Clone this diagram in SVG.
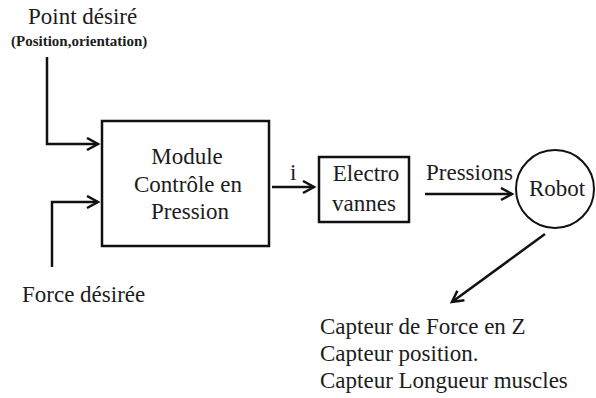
<svg xmlns="http://www.w3.org/2000/svg" width="596" height="398" viewBox="0 0 596 398">
<style>
text{font-family:'Liberation Serif','DejaVu Serif',serif;font-size:23px;fill:#1c1c1c}
.small{font-size:15px;font-weight:bold}
.mid{text-anchor:middle}
.box{fill:#fff;stroke:#111;stroke-width:2.5}
.edge{fill:none;stroke:#111;stroke-width:2.5}
</style>
<defs>
<marker id="arr" markerUnits="userSpaceOnUse" markerWidth="16" markerHeight="16" refX="12" refY="7" orient="auto" viewBox="0 0 16 16">
<path d="M1,1 L12,7 L1,13" fill="none" stroke="#111" stroke-width="2.5"/>
</marker>
</defs>
<rect width="596" height="398" fill="#fff"/>
<g id="connectors">
<path class="edge" d="M47,57 V144 H98" marker-end="url(#arr)"/>
<path class="edge" d="M52,267 V202 H98" marker-end="url(#arr)"/>
<path class="edge" d="M272,187 H314" marker-end="url(#arr)"/>
<path class="edge" d="M425,194 H512" marker-end="url(#arr)"/>
<path class="edge" d="M545,234 L452,302" marker-end="url(#arr)"/>
</g>
<g id="point-desire" font-family="Liberation Serif, serif">
<text x="28" y="24">Point désiré</text>
<text class="small" x="11" y="46">(Position,orientation)</text>
</g>
<g id="force-desiree">
<text x="22" y="302">Force désirée</text>
</g>
<g id="module">
<rect class="box" x="102" y="121" width="167" height="125"/>
<text class="mid" x="187" y="164">Module</text>
<text class="mid" x="188" y="192">Contrôle en</text>
<text class="mid" x="190" y="219">Pression</text>
</g>
<g id="label-i">
<text x="290" y="180">i</text>
</g>
<g id="electrovannes">
<rect class="box" x="319" y="157" width="90" height="65"/>
<text class="mid" x="366" y="181">Electro</text>
<text class="mid" x="364" y="211">vannes</text>
</g>
<g id="label-pressions">
<text x="426" y="180">Pressions</text>
</g>
<g id="robot">
<circle cx="555" cy="189" r="39" fill="#fff" stroke="#111" stroke-width="2"/>
<text class="mid" x="557" y="196">Robot</text>
</g>
<g id="capteurs">
<text x="320" y="334">Capteur de Force en Z</text>
<text x="320" y="361">Capteur position.</text>
<text x="320" y="388">Capteur Longueur muscles</text>
</g>
</svg>
